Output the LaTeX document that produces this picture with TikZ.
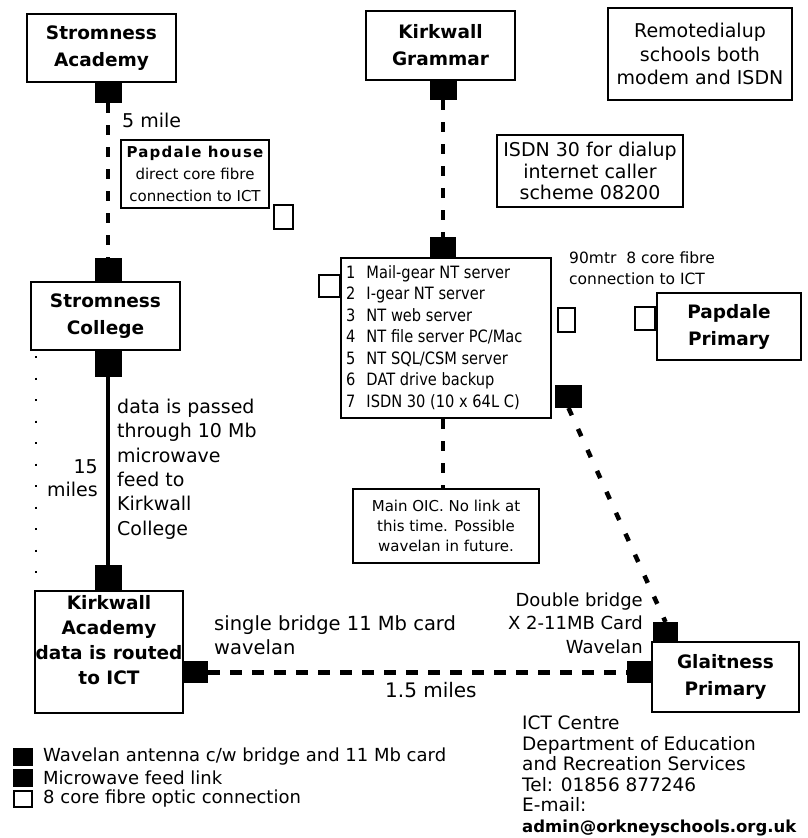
\documentclass[tikz,border=0pt]{standalone}
\usepackage{fontspec}
\setmainfont{DejaVu Sans}
\newfontfamily\narrowfont[FakeStretch=0.86]{DejaVu Sans}
\begin{document}
\begin{tikzpicture}[x=1pt,y=-1pt,
  site/.style={draw, line width=2.4pt, fill=white, inner sep=0pt, align=center,
    font=\fontsize{18.5}{27}\selectfont\bfseries},
  sitetext/.style={inner sep=0pt, align=center, font=\fontsize{18.5}{25}\selectfont\bfseries},
  note/.style={draw, line width=2pt, fill=white, inner sep=0pt, align=center},
  ant/.style={fill=black, draw=none, inner sep=0pt, outer sep=0pt},
  fib/.style={draw, line width=2pt, fill=white, inner sep=0pt, outer sep=0pt},
  lbl/.style={inner sep=0pt, font=\fontsize{19}{24}\selectfont},
  wavelink/.style={line width=5pt, dash pattern=on 12pt off 10pt},
  diaglink/.style={line width=4.5pt, dash pattern=on 8pt off 15pt},
  fibrelink/.style={line width=4pt, dash pattern=on 10pt off 12pt},
  microlink/.style={line width=4.5pt},
  dotlink/.style={line width=2pt, dash pattern=on 2pt off 19.5pt},
]
\useasboundingbox (0,0) rectangle (807,838);

% ---------- schools ----------
\node[site, minimum width=149pt, minimum height=68pt] (sa) at (101.5,48) {Stromness\\Academy};
\node[site, minimum width=149pt, minimum height=69pt] (kg) at (440.5,45.5) {Kirkwall\\Grammar};
\node[site, minimum width=149pt, minimum height=68pt] (sc) at (105.5,316) {Stromness\\College};
\node[site, minimum width=148pt, minimum height=122pt] (ka) at (109,652) {};
\node[sitetext] (katext) at (109,640) {Kirkwall\\Academy\\data is routed\\to ICT};
\node[site, minimum width=144pt, minimum height=67pt] (pp) at (729,326.5) {Papdale\\Primary};
\node[site, minimum width=147pt, minimum height=70pt] (gp) at (725.5,677) {Glaitness\\Primary};

% ---------- notes ----------
\node[note, minimum width=184pt, minimum height=92pt, font=\fontsize{19}{23.5}\selectfont]
  (remote) at (700,54) {Remotedialup\\schools both\\modem and ISDN};
\node[note, minimum width=186pt, minimum height=72pt, font=\fontsize{19}{21.5}\selectfont]
  (isdn) at (590,171) {ISDN 30 for dialup\\internet caller\\scheme 08200};
\node[note, minimum width=148pt, minimum height=68pt, font=\fontsize{15}{22}\selectfont]
  (ph) at (195,174) {{\bfseries\addfontfeature{LetterSpace=8}Papdale house}\\direct core fibre\\connection to ICT};
\node[note, minimum width=210pt, minimum height=160pt] (sv) at (446,338) {};
\node[inner sep=0pt, anchor=west, align=left, font=\narrowfont\fontsize{17}{21.5}\selectfont]
  (svlist) at (346,337.5) {1\hspace{11pt}Mail-gear NT server\\
    2\hspace{11pt}I-gear NT server\\
    3\hspace{11pt}NT web server\\
    4\hspace{11pt}NT file server PC/Mac\\
    5\hspace{11pt}NT SQL/CSM server\\
    6\hspace{11pt}DAT drive backup\\
    7\hspace{11pt}ISDN 30 (10 x 64L C)};
\node[note, minimum width=186pt, minimum height=74pt, font=\fontsize{15}{20}\selectfont]
  (oic) at (446,526) {Main OIC. No link at\\this time. Possible\\wavelan in future.};

% ---------- wavelan antennas and microwave feeds ----------
\node[ant, minimum width=27pt, minimum height=21pt] (sa-b) at (108,92.5) {};
\node[ant, minimum width=27pt, minimum height=24pt] (sc-t) at (108,270) {};
\node[ant, minimum width=27pt, minimum height=27pt] (sc-b) at (108,363.5) {};
\node[ant, minimum width=27pt, minimum height=26pt] (ka-t) at (108,578) {};
\node[ant, minimum width=25pt, minimum height=22pt] (ka-r) at (195.5,672) {};
\node[ant, minimum width=27pt, minimum height=19pt] (kg-b) at (443,90.5) {};
\node[ant, minimum width=26pt, minimum height=21pt] (sv-t) at (443,247.5) {};
\node[ant, minimum width=27pt, minimum height=23pt] (sv-br) at (568.5,396.5) {};
\node[ant, minimum width=25pt, minimum height=20pt] (gp-t) at (665.5,632) {};
\node[ant, minimum width=25pt, minimum height=22pt] (gp-l) at (639.5,672) {};

% ---------- fibre connections ----------
\node[fib, minimum width=19pt, minimum height=24pt] (ph-w) at (283.5,217) {};
\node[fib, minimum width=21pt, minimum height=22pt] (sv-l) at (329.5,286) {};
\node[fib, minimum width=17pt, minimum height=24pt] (sv-r) at (566.5,320) {};
\node[fib, minimum width=20pt, minimum height=23pt] (pp-w) at (645,318.5) {};

% ---------- links ----------
\draw[fibrelink] (sa-b.south) -- (sc-t.north);
\draw[microlink] (sc-b.south) -- (ka-t.north);
\draw[fibrelink] (kg-b.south) -- (sv-t.north);
\draw[fibrelink] (sv.south -| sv-t) -- (oic.north -| sv-t);
\draw[diaglink] (sv-br.south) -- (gp-t.north);
\draw[wavelink] (ka-r.east) -- (gp-l.west);
\coordinate (d1) at (36,356);
\coordinate (d2) at (36,590);
\draw[dotlink] (d1) -- (d2);

% ---------- link labels ----------
\node[lbl, anchor=west] (l5) at (122,120) {5 mile};
\node[lbl, anchor=east, align=right, font=\fontsize{19}{23}\selectfont] (l15) at (98,478) {15\\miles};
\node[lbl, anchor=west, align=left, font=\fontsize{19}{24.4}\selectfont] (ldata) at (117,469)
  {data is passed\\through 10 Mb\\microwave\\feed to\\Kirkwall\\College};
\node[lbl, anchor=west, align=left, font=\fontsize{19.5}{24}\selectfont] (lsingle) at (214,635)
  {single bridge 11 Mb card\\wavelan};
\node[lbl, anchor=east, align=right, font=\fontsize{18}{23.5}\selectfont] (ldouble) at (643,623)
  {Double bridge\\X 2-11MB Card\\Wavelan};
\node[lbl, anchor=west, font=\fontsize{20}{24}\selectfont] (lmiles) at (385,690) {1.5 miles};
\node[lbl, anchor=west, align=left, font=\fontsize{15.5}{21}\selectfont] (l90) at (569,268)
  {90mtr\ \ 8 core fibre\\connection to ICT};

% ---------- address ----------
\node[inner sep=0pt, anchor=west, align=left, font=\fontsize{18.5}{20.6}\selectfont] (addr) at (522,776)
  {ICT Centre\\Department of Education\\and Recreation Services\\Tel: 01856 877246\\E-mail:\\
   {\fontsize{16.5}{20.6}\selectfont\bfseries admin@orkneyschools.org.uk}};

% ---------- key ----------
\node[ant, minimum width=20pt, minimum height=18pt] (k1) at (23,757) {};
\node[ant, minimum width=20pt, minimum height=18pt] (k2) at (23,778) {};
\node[fib, minimum width=18pt, minimum height=16pt] (k3) at (23,799) {};
\node[lbl, anchor=west, font=\fontsize{18}{22}\selectfont] (k1t) at (43,757) {Wavelan antenna c/w bridge and 11 Mb card};
\node[lbl, anchor=west, font=\fontsize{18}{22}\selectfont] (k2t) at (43,778) {Microwave feed link};
\node[lbl, anchor=west, font=\fontsize{18}{22}\selectfont] (k3t) at (43,799) {8 core fibre optic connection};
\end{tikzpicture}
\end{document}
